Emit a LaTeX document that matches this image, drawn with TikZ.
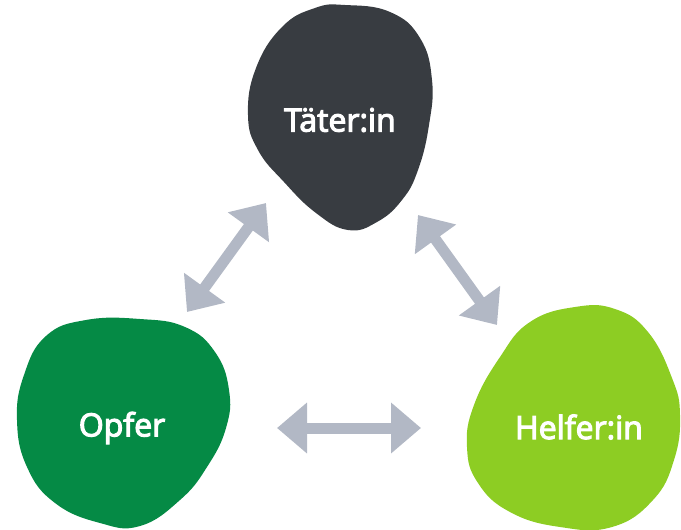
\documentclass[tikz,border=0pt]{standalone}
\usepackage{fontspec}
\setmainfont{Open Sans}[BoldFont={Open Sans}, BoldFeatures={FakeBold=3.5}]
\usetikzlibrary{arrows.meta}
\definecolor{taeter}{RGB}{56,60,65}
\definecolor{opfer}{RGB}{5,138,69}
\definecolor{helfer}{RGB}{141,205,35}
\definecolor{arrowgray}{RGB}{178,184,197}
\tikzset{
  blob/.style={smooth cycle, tension=0.75},
  role/.style={text=white, font=\fontsize{32}{38}\selectfont\bfseries, inner sep=0pt},
  rel/.style={draw=arrowgray, line width=11pt,
    {Triangle[length=30pt,width=49pt]}-{Triangle[length=30pt,width=49pt]}},
}
\begin{document}
\begin{tikzpicture}[x=1pt, y=-1pt]
\useasboundingbox (0,0) rectangle (681,530);
% blobs
\fill[taeter] plot[blob] coordinates {(345,5) (390,12) (420,38) (432,80) (429,125) (418,170) (402,200) (377,222) (348,230) (316,213) (284,182) (258,150) (248,115) (256,68) (282,27) (315,8)};
\fill[opfer] plot[blob] coordinates {(86,320) (140,319) (185,327) (215,352) (229,390) (226,428) (207,467) (180,500) (140,526) (100,523) (55,503) (27,467) (17,420) (24,375) (46,336)};
\fill[helfer] plot[blob] coordinates {(575,307) (615,309) (648,332) (672,378) (680,415) (674,460) (653,500) (612,527) (560,527) (510,512) (478,483) (467,447) (474,405) (500,357) (530,322)};
% labels
\node[role] (t) at (340,120) {Täter:in};
\node[role] (o) at (122,428) {Opfer};
\node[role] (h) at (579,427) {Helfer:in};
% arrow end points
\coordinate (toL) at (266,203);
\coordinate (oT) at (187,312);
\coordinate (tR) at (418,215);
\coordinate (hT) at (497,325);
\coordinate (oR) at (277,428);
\coordinate (hL) at (421,428);
% relations
\draw[rel] (oT) -- (toL);
\draw[rel] (tR) -- (hT);
\draw[rel] (oR) -- (hL);
\end{tikzpicture}
\end{document}
